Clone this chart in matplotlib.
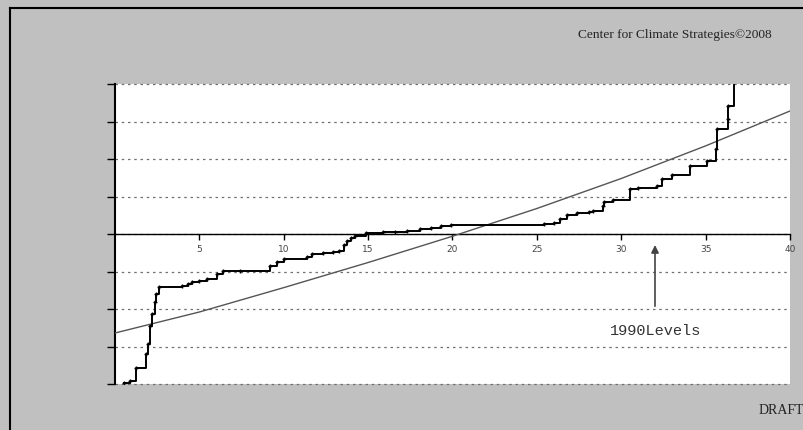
import numpy as np
import matplotlib
matplotlib.use("Agg")
import matplotlib.pyplot as plt
from matplotlib.lines import Line2D

# step curve: start of each step (x) and its level (y)
step_x = [0.55, 0.9, 1.24, 1.84, 1.95, 2.05, 2.2, 2.35, 2.45, 2.6,
          3.97, 4.3, 4.56, 5.0, 5.45, 6.04, 6.4, 7.4, 9.2, 9.6,
          10.0, 11.4, 11.7, 12.3, 12.9, 13.3, 13.6, 13.75, 14.0, 14.2,
          14.9, 15.9, 16.6, 17.3, 18.1, 18.7, 19.3, 19.9, 25.4, 26.0,
          26.4, 26.8, 27.4, 28.1, 28.3, 28.9, 29.0, 29.5, 30.5, 31.0,
          32.1, 32.4, 33.0, 34.1, 35.1, 35.6, 35.7, 36.3, 36.35, 36.7]
step_y = [-3.97, -3.93, -3.57, -3.2, -2.93, -2.45, -2.13, -1.81, -1.6, -1.41,
          -1.38, -1.32, -1.28, -1.24, -1.2, -1.07, -0.99, -0.98, -0.85, -0.75,
          -0.67, -0.6, -0.53, -0.5, -0.48, -0.45, -0.3, -0.18, -0.1, -0.05,
          0.03, 0.05, 0.06, 0.08, 0.13, 0.17, 0.21, 0.24, 0.26, 0.29,
          0.4, 0.51, 0.56, 0.59, 0.61, 0.75, 0.85, 0.9, 1.2, 1.23,
          1.28, 1.47, 1.57, 1.81, 1.95, 2.27, 2.8, 3.07, 3.41, 4.05]
step_end = 36.75

# the smooth reference line
trend_x = [0, 5, 10, 15, 20, 25, 30, 35, 40]
trend_y = [-2.64, -2.08, -1.43, -0.76, -0.06, 0.68, 1.48, 2.35, 3.28]

xticks = [5, 10, 15, 20, 25, 30, 35, 40]
yticks = [-4, -3, -2, -1, 0, 1, 2, 3, 4]

fig = plt.figure(figsize=(8.04, 4.30), dpi=100)
fig.patch.set_facecolor('#c0c0c0')
ax = fig.add_axes([115 / 804, 46 / 430, 675 / 804, 300 / 430])
ax.set_facecolor('white')

# outer frame
fig.add_artist(Line2D([10 / 804, 1.0], [1 - 8 / 430, 1 - 8 / 430], color='black', lw=1.5))
fig.add_artist(Line2D([10 / 804, 10 / 804], [0, 1 - 8 / 430], color='black', lw=1.5))

# dotted grid
ax.hlines(yticks, 0, 40, colors='#707070', linestyles=(0, (2, 3)), lw=0.9, clip_on=False, zorder=1)

ax.plot(trend_x, trend_y, color='#555555', lw=1, zorder=3)

sx = step_x + [step_end]
sy = step_y + [step_y[-1]]
ax.plot(sx, sy, drawstyle='steps-post', color='black', lw=1.4, zorder=4)
ax.plot(step_x, step_y, ls='none', marker='+', ms=3.5, mew=1, color='black', zorder=5)

ax.annotate('', xy=(32, -0.22), xytext=(32, -2.0),
            arrowprops=dict(arrowstyle='-|>', color='#444444', lw=1.2, mutation_scale=11))
ax.text(32.03, -2.59, '1990Levels', family='Liberation Mono', fontsize=11,
        color='#333333', ha='center', va='center')

ax.set_xlim(0, 40)
ax.set_ylim(-4, 4)
for s in ['top', 'right']:
    ax.spines[s].set_visible(False)
ax.spines['bottom'].set_position(('data', 0))
ax.spines['bottom'].set_linewidth(1)
ax.spines['left'].set_linewidth(1.5)
ax.set_xticks(xticks)
ax.set_xticklabels([str(t) for t in xticks], fontsize=6.5, color='#444444')
ax.set_yticks(yticks)
ax.set_yticklabels([])
ax.tick_params(axis='x', direction='out', length=4, width=1, pad=4)
ax.tick_params(axis='y', direction='out', length=6, width=1)

fig.text(578 / 804, 1 - 35 / 430, 'Center for Climate Strategies\u00a92008',
         family='Liberation Serif', fontsize=9.6, color='#222222', ha='left', va='center')
fig.text(759 / 804, 1 - 410 / 430, 'DRAFT', family='Liberation Serif', fontsize=10,
         color='#222222', ha='left', va='center')

fig.savefig('out.png', dpi=100, facecolor=fig.get_facecolor())
